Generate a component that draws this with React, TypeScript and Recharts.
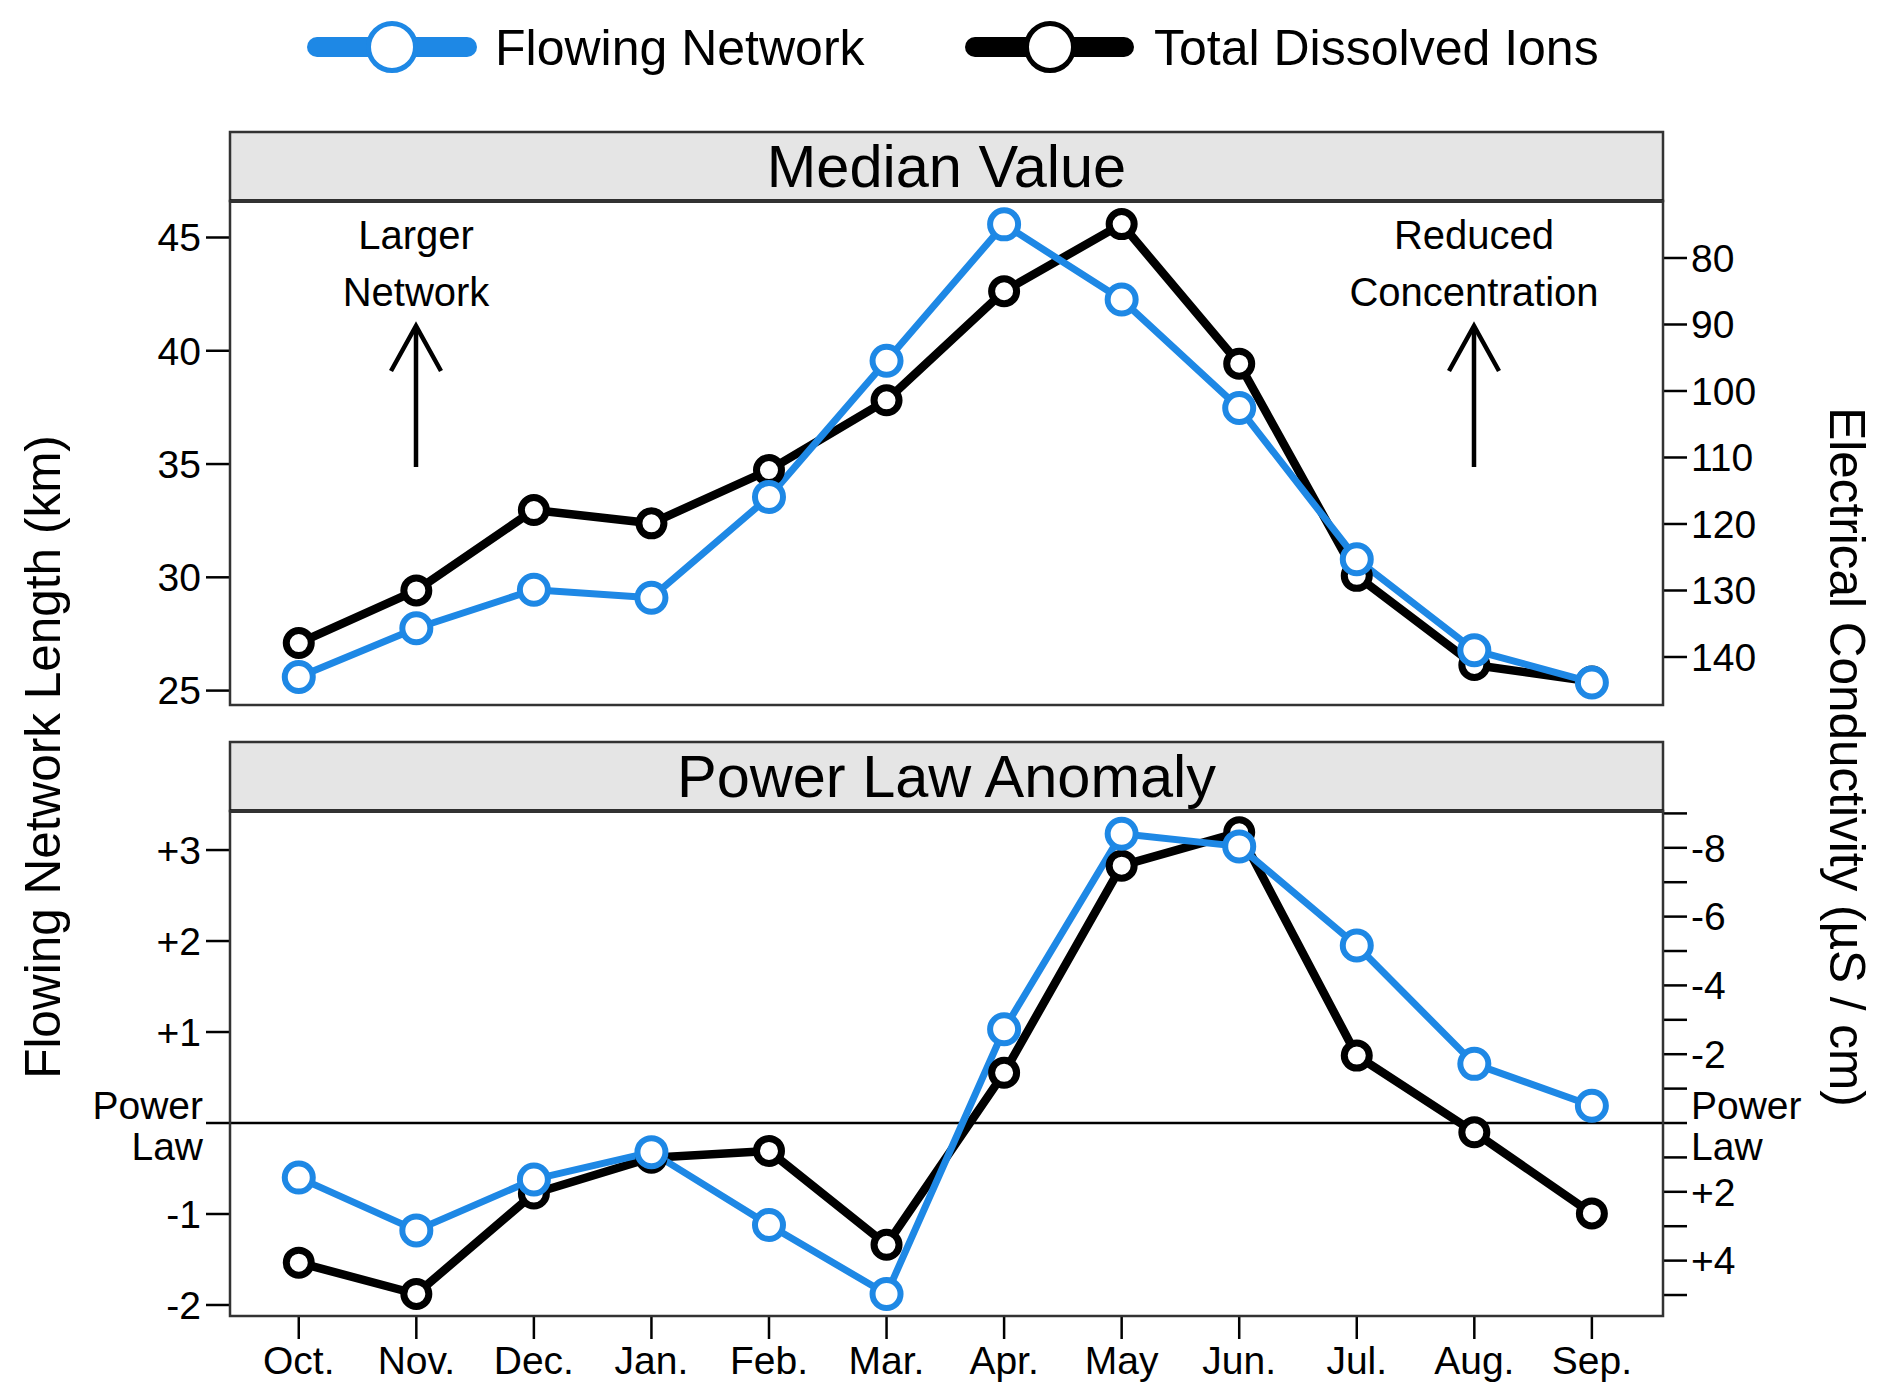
import { LineChart, Line, XAxis, YAxis, ReferenceLine } from 'recharts'

const months = ['Oct.', 'Nov.', 'Dec.', 'Jan.', 'Feb.', 'Mar.', 'Apr.', 'May', 'Jun.', 'Jul.', 'Aug.', 'Sep.']
// median values
const flowMedianKm = [25.6, 27.75, 29.45, 29.1, 33.55, 39.56, 45.58, 42.26, 37.47, 30.8, 26.78, 25.36]
const conductivityMedian = [137.9, 130.0, 117.9, 119.9, 111.9, 101.4, 85.0, 74.9, 95.9, 127.8, 141.2, 143.7]
// anomaly from the power law
const flowAnomaly = [-0.6, -1.18, -0.62, -0.32, -1.12, -1.88, 1.03, 3.18, 3.04, 1.95, 0.65, 0.19]
const conductivityAnomaly = [4.06, 4.97, 2.05, 1.01, 0.81, 3.54, -1.46, -7.48, -8.45, -1.96, 0.27, 2.63]

const medianKmTicks = [25, 30, 35, 40, 45]
const medianEcTicks = [80, 90, 100, 110, 120, 130, 140]
const anomalyKmTicks = [-2, -1, 0, 1, 2, 3]
const anomalyEcTicks = [-9, -8, -7, -6, -5, -4, -3, -2, -1, 0, 1, 2, 3, 4, 5]

const data = months.map((m, i) => ({
  idx: i,
  month: m,
  flowMedian: flowMedianKm[i],
  ecMedian: conductivityMedian[i],
  flowAnom: flowAnomaly[i],
  ecAnom: conductivityAnomaly[i],
}))

const FONT = '"Liberation Sans", Arial, Helvetica, sans-serif'
const BLUE = '#1E88E5'
const W = 1892
const TICK_FS = 39
const xDomain: [number, number] = [-0.585, 11.605]
const tickStyle = { fontSize: TICK_FS, fill: '#000', fontFamily: FONT }
const tickLine = { stroke: '#000', strokeWidth: 2.5 }

const signed = (v: number) => (v > 0 ? `+${v}` : `${v}`)

function LeftAnomalyTick(props: any) {
  const { x, y, payload } = props
  const v = payload.value
  if (v === 0) {
    return (
      <g fontFamily={FONT} fontSize={TICK_FS} fill="#000" textAnchor="end">
        <text x={x + 2} y={y - 4}>Power</text>
        <text x={x + 2} y={y + 37}>Law</text>
      </g>
    )
  }
  return (
    <text x={x} y={y} dy="0.355em" textAnchor="end" fontFamily={FONT} fontSize={TICK_FS} fill="#000">
      {signed(v)}
    </text>
  )
}

function RightAnomalyTick(props: any) {
  const { x, y, payload } = props
  const v = payload.value
  if (v === 0) {
    return (
      <g fontFamily={FONT} fontSize={TICK_FS} fill="#000" textAnchor="start">
        <text x={x} y={y - 4}>Power</text>
        <text x={x} y={y + 37}>Law</text>
      </g>
    )
  }
  if (v % 2 !== 0) return <g />
  return (
    <text x={x} y={y} dy="0.355em" textAnchor="start" fontFamily={FONT} fontSize={TICK_FS} fill="#000">
      {signed(v)}
    </text>
  )
}

const blueDot = { r: 14, fill: '#fff', stroke: BLUE, strokeWidth: 6 }
const blackDot = { r: 12.5, fill: '#fff', stroke: '#000', strokeWidth: 7 }

function Arrow({ x }: { x: number }) {
  return (
    <g stroke="#000" strokeWidth={4.5} fill="none">
      <line x1={x} y1={467} x2={x} y2={328} />
      <polyline points={`${x - 25},371 ${x},326 ${x + 25},371`} strokeLinejoin="miter" />
    </g>
  )
}

function Overlay() {
  return (
    <svg width={W} height={1400} style={{ position: 'absolute', left: 0, top: 0, pointerEvents: 'none' }} fontFamily={FONT}>
      {/* legend */}
      <line x1={317} y1={47} x2={467} y2={47} stroke={BLUE} strokeWidth={20} strokeLinecap="round" />
      <circle cx={392} cy={47} r={23.5} fill="#fff" stroke={BLUE} strokeWidth={5} />
      <text x={495} y={65} fontSize={50}>Flowing Network</text>
      <line x1={975} y1={47} x2={1124} y2={47} stroke="#000" strokeWidth={20} strokeLinecap="round" />
      <circle cx={1050} cy={47} r={23.5} fill="#fff" stroke="#000" strokeWidth={5} />
      <text x={1154} y={65} fontSize={50}>Total Dissolved Ions</text>

      {/* top panel strip and frame */}
      <rect x={230} y={132} width={1433} height={69} fill="#e5e5e5" stroke="#333" strokeWidth={2.5} />
      <line x1={230} y1={201} x2={1663} y2={201} stroke="#000" strokeWidth={3.5} />
      <rect x={230} y={201} width={1433} height={504} fill="none" stroke="#333" strokeWidth={2.5} />
      <text x={946.5} y={187} fontSize={59.5} textAnchor="middle">Median Value</text>

      {/* bottom panel strip and frame */}
      <rect x={230} y={742} width={1433} height={69} fill="#e5e5e5" stroke="#333" strokeWidth={2.5} />
      <line x1={230} y1={811} x2={1663} y2={811} stroke="#000" strokeWidth={3.5} />
      <rect x={230} y={811} width={1433} height={505} fill="none" stroke="#333" strokeWidth={2.5} />
      <text x={946.5} y={797} fontSize={59.5} textAnchor="middle">Power Law Anomaly</text>

      {/* annotations */}
      <text x={416} y={249} fontSize={40} textAnchor="middle">Larger</text>
      <text x={416} y={306} fontSize={40} textAnchor="middle">Network</text>
      <Arrow x={416} />
      <text x={1474} y={249} fontSize={40} textAnchor="middle">Reduced</text>
      <text x={1474} y={306} fontSize={40} textAnchor="middle">Concentration</text>
      <Arrow x={1474} />

      {/* axis titles */}
      <text x={42} y={757} fontSize={49.5} textAnchor="middle" dominantBaseline="central" transform="rotate(-90 42 757)">
        Flowing Network Length (km)
      </text>
      <text x={1847} y={757} fontSize={49.5} textAnchor="middle" dominantBaseline="central" transform="rotate(90 1847 757)">
        Electrical Conductivity (µS / cm)
      </text>
    </svg>
  )
}

export default function App() {
  return (
    <div style={{ position: 'absolute', left: 0, top: 0, width: W, height: 1400, background: '#fff', overflow: 'hidden' }}>
      <div style={{ position: 'absolute', left: 0, top: 0 }}>
        <LineChart width={W} height={730} data={data} margin={{ top: 201, right: 0, bottom: 25, left: 0 }}>
          <XAxis dataKey="idx" type="number" domain={xDomain} allowDataOverflow hide />
          <YAxis
            yAxisId="km"
            orientation="left"
            width={230}
            type="number"
            domain={[24.364, 46.611]}
            allowDataOverflow
            ticks={medianKmTicks}
            interval={0}
            axisLine={false}
            tickLine={tickLine}
            tickSize={24}
            tickMargin={5}
            tick={tickStyle}
          />
          <YAxis
            yAxisId="ec"
            orientation="right"
            width={229}
            type="number"
            reversed
            domain={[71.43, 147.22]}
            allowDataOverflow
            ticks={medianEcTicks}
            interval={0}
            axisLine={false}
            tickLine={tickLine}
            tickSize={24}
            tickMargin={4}
            tick={tickStyle}
          />
          <Line yAxisId="ec" dataKey="ecMedian" stroke="#000" strokeWidth={8.5} strokeLinejoin="round" dot={blackDot} isAnimationActive={false} />
          <Line yAxisId="km" dataKey="flowMedian" stroke={BLUE} strokeWidth={7} strokeLinejoin="round" dot={blueDot} isAnimationActive={false} />
        </LineChart>
      </div>
      <div style={{ position: 'absolute', left: 0, top: 710 }}>
        <LineChart width={W} height={690} data={data} margin={{ top: 101, right: 0, bottom: 0, left: 0 }}>
          <XAxis
            dataKey="idx"
            type="number"
            domain={xDomain}
            allowDataOverflow
            ticks={months.map((_, i) => i)}
            interval={0}
            tickFormatter={(i: number) => months[i]}
            height={84}
            axisLine={false}
            tickLine={tickLine}
            tickSize={23}
            tickMargin={7}
            tick={tickStyle}
          />
          <YAxis
            yAxisId="km"
            orientation="left"
            width={230}
            type="number"
            domain={[-2.121, 3.429]}
            allowDataOverflow
            ticks={anomalyKmTicks}
            interval={0}
            axisLine={false}
            tickLine={tickLine}
            tickSize={24}
            tickMargin={5}
            tick={<LeftAnomalyTick />}
          />
          <YAxis
            yAxisId="ec"
            orientation="right"
            width={229}
            type="number"
            reversed
            domain={[-9.07, 5.61]}
            allowDataOverflow
            ticks={anomalyEcTicks}
            interval={0}
            axisLine={false}
            tickLine={tickLine}
            tickSize={24}
            tickMargin={4}
            tick={<RightAnomalyTick />}
          />
          <ReferenceLine yAxisId="km" y={0} stroke="#000" strokeWidth={2.5} />
          <Line yAxisId="ec" dataKey="ecAnom" stroke="#000" strokeWidth={8.5} strokeLinejoin="round" dot={blackDot} isAnimationActive={false} />
          <Line yAxisId="km" dataKey="flowAnom" stroke={BLUE} strokeWidth={7} strokeLinejoin="round" dot={blueDot} isAnimationActive={false} />
        </LineChart>
      </div>
      <Overlay />
    </div>
  )
}
